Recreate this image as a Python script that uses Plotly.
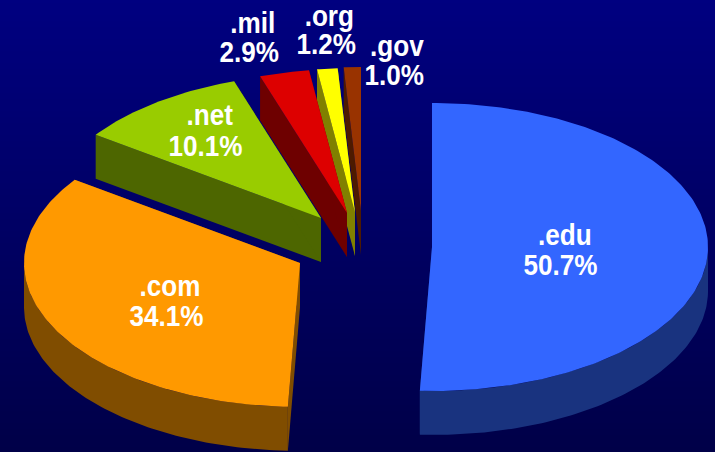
import numpy as np
import plotly.graph_objects as go

# --- data ---
labels = [".edu", ".com", ".net", ".mil", ".org", ".gov"]
shares = [50.7, 34.1, 10.1, 2.9, 1.2, 1.0]

# --- styling / layout ---
top_colors = ["#3366FF", "#FF9900", "#99CC00", "#DD0000", "#FFFF00", "#993300"]
side_colors = ["#19337F", "#804D00", "#4D6600", "#6E0000", "#808000", "#4D1A00"]
apex_x = [432, 300, 321, 347, 355, 361]
apex_y = [247, 263, 218, 213, 212, 211]
label_xy = [(565, 234), (170, 285), (209, 114), (253, 22), (329, 15), (397, 45)]
value_xy = [(560, 264), (166, 315), (205, 145), (249, 51), (326, 43), (394, 74)]
RX, RY, DEPTH = 276, 144, 44
WIDTH, HEIGHT = 715, 452

ends = np.cumsum(shares) / np.sum(shares) * 2 * np.pi
starts = np.concatenate([[0], ends[:-1]])

fig = go.Figure()

# gradient background
rows = np.arange(0, HEIGHT + 1, 6)
fig.add_trace(go.Heatmap(
    x=[0, WIDTH], y=rows, z=[[r, r] for r in rows],
    colorscale=[[0, "#000080"], [1, "#000048"]],
    showscale=False, hoverinfo="skip", zsmooth=False))


def poly(xs, ys, color):
    fig.add_trace(go.Scatter(
        x=xs, y=ys, mode="lines", fill="toself", fillcolor=color,
        line=dict(width=0, color=color), hoverinfo="skip", showlegend=False))


# back-most wedges first, so nearer wedges cover them
for i in [5, 4, 3, 2, 1, 0]:
    cx, cy = apex_x[i], apex_y[i]
    th = np.linspace(starts[i], ends[i], max(8, int((ends[i] - starts[i]) * 60)))
    ax = cx + RX * np.sin(th)
    ay = cy - RY * np.cos(th)
    # radial side faces
    for k in (0, -1):
        poly([cx, ax[k], ax[k], cx, cx],
             [cy, ay[k], ay[k] + DEPTH, cy + DEPTH, cy], side_colors[i])
    # outer rim (front half of the ellipse only)
    front = (th >= np.pi / 2) & (th <= 3 * np.pi / 2)
    if front.any():
        rx, ry = ax[front], ay[front]
        poly(np.concatenate([rx, rx[::-1]]),
             np.concatenate([ry, ry[::-1] + DEPTH]), side_colors[i])
    # top face
    poly(np.concatenate([[cx], ax, [cx]]), np.concatenate([[cy], ay, [cy]]), top_colors[i])

annotations = []
for name, share, lxy, vxy in zip(labels, shares, label_xy, value_xy):
    for text, (x, y) in ((name, lxy), (f"{share:.1f}%", vxy)):
        annotations.append(dict(
            x=x, y=y, text=text, showarrow=False, xanchor="center", yanchor="middle",
            font=dict(family="Liberation Sans", size=30, color="white", weight="bold")))

fig.update_layout(
    width=WIDTH, height=HEIGHT, margin=dict(l=0, r=0, t=0, b=0),
    paper_bgcolor="#000060", plot_bgcolor="#000060", showlegend=False,
    xaxis=dict(range=[0, WIDTH], visible=False, fixedrange=True),
    yaxis=dict(range=[HEIGHT, 0], visible=False, fixedrange=True),
    annotations=annotations)

# remove the page's default margin; condense the labels horizontally like the original face
post = """
document.documentElement.style.margin = '0';
document.body.style.margin = '0';
document.querySelectorAll('.annotation-text').forEach(function (t) {
    var w = t.getComputedTextLength();
    t.setAttribute('textLength', (w * 0.87).toFixed(1));
    t.setAttribute('lengthAdjust', 'spacingAndGlyphs');
});
"""
fig.write_html("out.html", config={"displayModeBar": False}, post_script=post)
